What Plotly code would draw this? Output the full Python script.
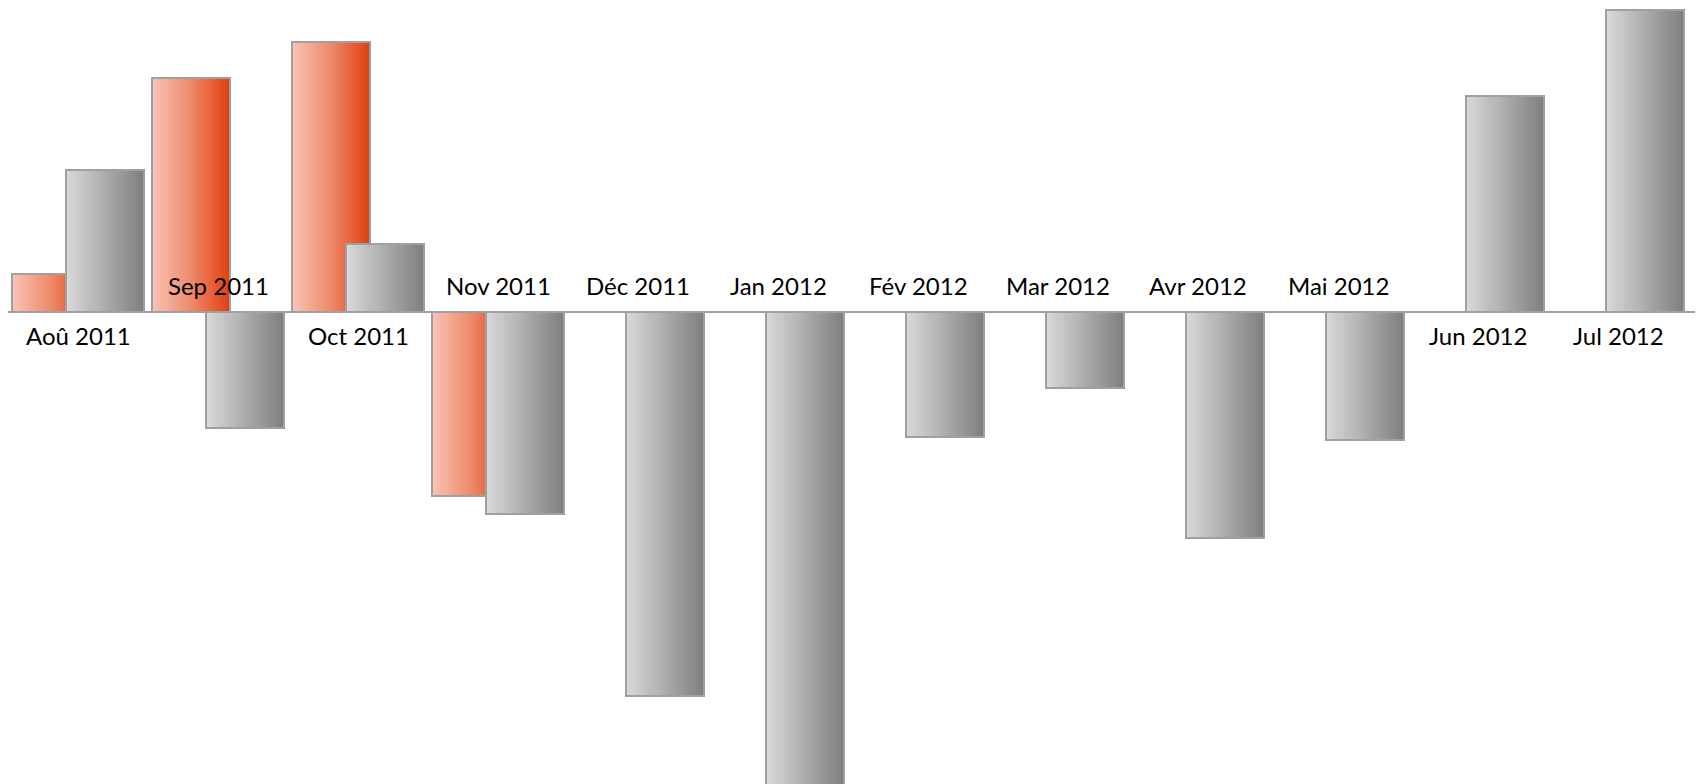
import plotly.graph_objects as go

# ---- data ----
categories = ["Aoû 2011", "Sep 2011", "Oct 2011", "Nov 2011", "Déc 2011", "Jan 2012",
              "Fév 2012", "Mar 2012", "Avr 2012", "Mai 2012", "Jun 2012", "Jul 2012"]
series_red = [3.8, 23.4, 27.0, -18.4, None, None, None, None, None, None, None, None]
series_gray = [14.2, -11.6, 6.8, -20.2, -38.4, -52.0, -12.5, -7.6, -22.6, -12.8, 21.6, 30.2]

# ---- style ----
BAR_W = 0.557
RED_OFF = -0.471
GRAY_OFF = -0.086
N_STRIPS = 30
BORDER = "#a0a0a4"

def lerp_color(stops, t):
    for i in range(len(stops) - 1):
        t0, c0 = stops[i]
        t1, c1 = stops[i + 1]
        if t <= t1:
            u = (t - t0) / (t1 - t0) if t1 > t0 else 0
            return "rgb(%d,%d,%d)" % tuple(round(c0[k] + (c1[k] - c0[k]) * u) for k in range(3))
    return "rgb(%d,%d,%d)" % stops[-1][1]

red_stops = [(0.0, (249, 196, 182)), (0.5, (238, 138, 106)), (1.0, (224, 62, 14))]
gray_stops = [(0.0, (218, 218, 218)), (1.0, (126, 126, 126))]

x = list(range(len(categories)))
fig = go.Figure()

def add_gradient_bar(values, offset, stops, name):
    sw = BAR_W / N_STRIPS
    for i in range(N_STRIPS):
        t = (i + 0.5) / N_STRIPS
        fig.add_trace(go.Bar(
            x=x, y=values, width=sw * 1.04, offset=offset + i * sw,
            marker=dict(color=lerp_color(stops, t), line=dict(width=0)),
            showlegend=False, hoverinfo="skip", name=name))
    fig.add_trace(go.Bar(
        x=x, y=values, width=BAR_W, offset=offset,
        marker=dict(color="rgba(0,0,0,0)", line=dict(color=BORDER, width=2)),
        showlegend=False, name=name))

add_gradient_bar(series_red, RED_OFF, red_stops, "Série 1")
add_gradient_bar(series_gray, GRAY_OFF, gray_stops, "Série 2")

# category labels: below axis when gray value positive, above when negative
for i, cat in enumerate(categories):
    v = series_gray[i]
    fig.add_annotation(x=i, y=0, text=cat, showarrow=False,
                       xanchor="center", yanchor="middle",
                       yshift=(-23 if v >= 0 else 27),
                       font=dict(family="Lato", size=24, color="#000000"))

fig.update_layout(
    width=1703, height=784,
    margin=dict(l=0, r=0, t=0, b=0),
    paper_bgcolor="white", plot_bgcolor="white",
    barmode="overlay", bargap=0,
    xaxis=dict(range=[-0.5, 11.664], showgrid=False, showticklabels=False,
               zeroline=False, showline=False, fixedrange=True),
    yaxis=dict(range=[-48.0, 30.4], showgrid=False, showticklabels=False,
               zeroline=True, zerolinecolor=BORDER, zerolinewidth=2,
               showline=False, fixedrange=True),
)

fig.write_html("out.html")
